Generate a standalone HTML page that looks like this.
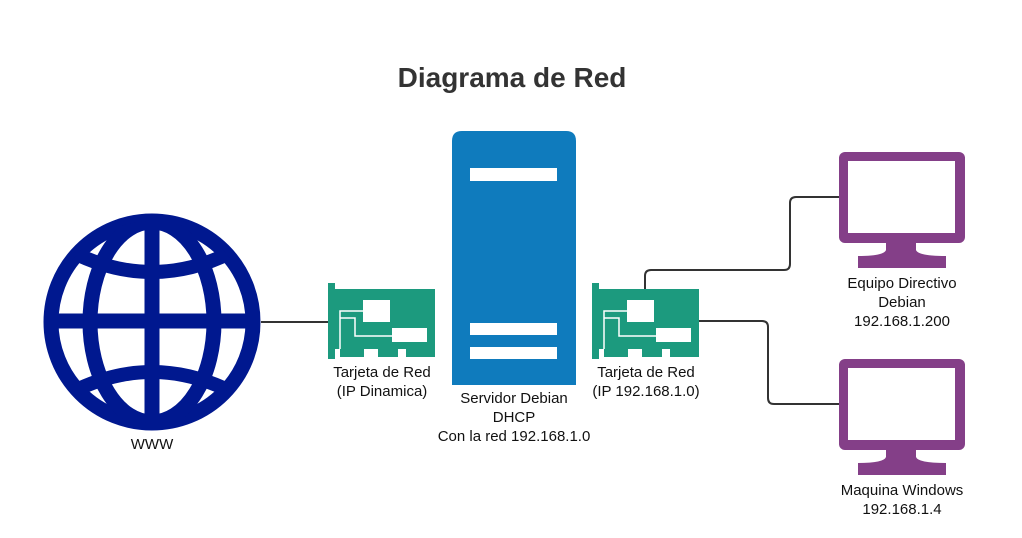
<!DOCTYPE html>
<html><head><meta charset="utf-8"><style>
body{margin:0;background:#fff;width:1022px;height:533px;overflow:hidden;font-family:"Liberation Sans",sans-serif}
</style></head><body>
<svg width="1022" height="533" viewBox="0 0 1022 533" xmlns="http://www.w3.org/2000/svg" font-family="Liberation Sans, sans-serif">
<text x="512" y="87" text-anchor="middle" font-size="28" font-weight="bold" fill="#333">Diagrama de Red</text>
<g fill="none" stroke="#333" stroke-width="2">
<path d="M261 322H328"/>
<path d="M645 289V276Q645 270 651 270H784Q790 270 790 264V203Q790 197 796 197H839"/>
<path d="M698 321H762Q768 321 768 327V398Q768 404 774 404H839"/>
</g>
<defs><clipPath id="gc"><circle cx="152" cy="322" r="101"/></clipPath></defs>
<g fill="none" stroke="#00188f" stroke-width="15">
<circle cx="152" cy="322" r="101"/>
<g clip-path="url(#gc)">
<ellipse cx="152" cy="322" rx="62" ry="100"/>
<path d="M152 222V422M51 321H253"/>
<path d="M72 252Q152 292 232 252" stroke-width="14"/>
<path d="M72 392Q152 352 232 392" stroke-width="14"/>
</g>
</g>
<text x="152" y="449" text-anchor="middle" font-size="15" fill="#111">WWW</text>
<g id="card" fill="#1c9a7e">
<rect x="328" y="283" width="7" height="76"/>
<rect x="335" y="289" width="100" height="60"/>
<rect x="340" y="348" width="24" height="9"/>
<rect x="378" y="348" width="20" height="9"/>
<rect x="406" y="348" width="29" height="9"/>
<rect x="363" y="300" width="27" height="22" fill="#fff"/>
<rect x="392" y="328" width="35" height="14" fill="#fff"/>
<path d="M340 349V311H363M340 318H355V336H392" fill="none" stroke="#fff" stroke-width="1.5"/>
</g>
<use href="#card" x="264"/>
<text font-size="15" fill="#111" text-anchor="middle"><tspan x="382" y="377">Tarjeta de Red</tspan><tspan x="382" y="396">(IP Dinamica)</tspan></text>
<text font-size="15" fill="#111" text-anchor="middle"><tspan x="646" y="377">Tarjeta de Red</tspan><tspan x="646" y="396">(IP 192.168.1.0)</tspan></text>
<path d="M452 385V141Q452 131 462 131H566Q576 131 576 141V385Z" fill="#0f7bbd"/>
<g fill="#fff"><rect x="470" y="168" width="87" height="13"/><rect x="470" y="323" width="87" height="12"/><rect x="470" y="347" width="87" height="12"/></g>
<text font-size="15" fill="#111" text-anchor="middle"><tspan x="514" y="403">Servidor Debian</tspan><tspan x="514" y="422">DHCP</tspan><tspan x="514" y="441">Con la red 192.168.1.0</tspan></text>
<g id="mon" fill="#843f88">
<rect x="839" y="152" width="126" height="91" rx="6"/>
<rect x="848" y="161" width="107" height="72" fill="#fff"/>
<path d="M886 243H916V250Q918 256 946 256V268H858V256Q884 256 886 250Z"/>
</g>
<use href="#mon" y="207"/>
<text font-size="15" fill="#111" text-anchor="middle"><tspan x="902" y="288">Equipo Directivo</tspan><tspan x="902" y="307">Debian</tspan><tspan x="902" y="326">192.168.1.200</tspan></text>
<text font-size="15" fill="#111" text-anchor="middle"><tspan x="902" y="495">Maquina Windows</tspan><tspan x="902" y="514">192.168.1.4</tspan></text>
</svg>
</body></html>
